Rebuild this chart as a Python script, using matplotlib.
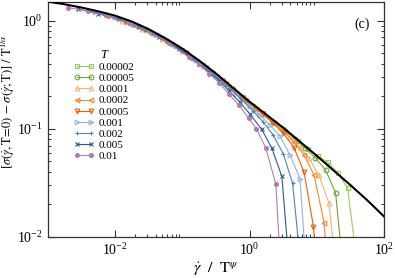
import numpy as np
import matplotlib
matplotlib.use('Agg')
import matplotlib.pyplot as plt
from matplotlib.ticker import FixedLocator, LogLocator, NullFormatter, LogFormatterSciNotation

plt.rcParams['font.family'] = ['Liberation Serif', 'DejaVu Serif']
plt.rcParams['mathtext.fontset'] = 'stix'

# temperatures, in legend order
temps = ['0.00002', '0.00005', '0.0001', '0.0002', '0.0005', '0.001', '0.002', '0.005', '0.01']
colors = ['#92d050', '#6aa832', '#fab470', '#f08a30', '#e0640c', '#8eb4e3', '#4f81bd', '#2f5597', '#b07cb0']
markers = ['s', 'o', '^', '<', 'v', '>', '+', 'x', 'o']
filled = [False, False, False, False, False, False, True, True, True]

# log10(x), log10(y), one pair per temperature
lx_00002 = [-1.6, -1.3, -1.0, -0.7, -0.4, -0.1, 0.2, 0.5, 0.72, 0.87, 1.02, 1.16, 1.31, 1.46, 1.61]
ly_00002 = [-0.065, -0.162, -0.27, -0.408, -0.552, -0.708, -0.856, -1.0, -1.11, -1.185, -1.255, -1.306, -1.407, -1.551, -2.30]

lx_00005 = [-1.75, -1.45, -1.15, -0.85, -0.55, -0.25, 0.05, 0.35, 0.53, 0.68, 0.83, 0.98, 1.13, 1.28, 1.43]
ly_00005 = [-0.033, -0.113, -0.221, -0.344, -0.482, -0.635, -0.789, -0.933, -1.021, -1.099, -1.182, -1.27, -1.38, -1.592, -2.55]

lx_0001 = [-1.9, -1.6, -1.3, -1.0, -0.7, -0.4, -0.1, 0.2, 0.45, 0.6, 0.75, 0.88, 1.03, 1.18, 1.33]
ly_0001 = [0.0, -0.075, -0.172, -0.28, -0.418, -0.562, -0.718, -0.866, -0.986, -1.072, -1.17, -1.268, -1.426, -1.687, -2.53]

lx_0002 = [-2.0, -1.7, -1.4, -1.1, -0.8, -0.5, -0.2, 0.1, 0.36, 0.51, 0.66, 0.81, 0.96, 1.11, 1.26]
ly_0002 = [0.025, -0.05, -0.136, -0.244, -0.372, -0.51, -0.666, -0.818, -0.943, -1.025, -1.123, -1.241, -1.429, -1.87, -3.27]

lx_0005 = [-2.15, -1.85, -1.55, -1.25, -0.95, -0.65, -0.35, -0.05, 0.2, 0.35, 0.5, 0.66, 0.81, 0.95, 1.1]
ly_0005 = [0.048, -0.012, -0.088, -0.19, -0.303, -0.441, -0.588, -0.744, -0.866, -0.948, -1.04, -1.173, -1.40, -1.905, -3.0]

lx_001 = [-2.3, -2.0, -1.7, -1.4, -1.1, -0.8, -0.5, -0.2, 0.0, 0.15, 0.3, 0.45, 0.6, 0.75, 0.9]
ly_001 = [0.075, 0.03, -0.045, -0.131, -0.239, -0.367, -0.51, -0.676, -0.79, -0.872, -0.964, -1.066, -1.242, -1.46, -2.82]

lx_002 = [-2.4, -2.1, -1.8, -1.5, -1.2, -0.9, -0.6, -0.3, -0.15, 0.05, 0.2, 0.35, 0.5, 0.64, 0.79]
ly_002 = [0.09, 0.045, -0.02, -0.095, -0.203, -0.321, -0.464, -0.624, -0.712, -0.834, -0.936, -1.058, -1.23, -1.503, -2.44]

lx_005 = [-2.55, -2.25, -1.95, -1.65, -1.35, -1.05, -0.75, -0.45, -0.3, -0.15, 0.0, 0.18, 0.33, 0.48, 0.63]
ly_005 = [0.106, 0.063, 0.013, -0.063, -0.154, -0.262, -0.405, -0.556, -0.654, -0.752, -0.86, -1.006, -1.178, -1.44, -2.58]

lx_01 = [-2.7, -2.4, -2.1, -1.8, -1.5, -1.2, -0.9, -0.75, -0.6, -0.45, -0.31, -0.16, -0.01, 0.10, 0.24, 0.39, 0.54]
ly_01 = [0.12, 0.085, 0.04, -0.025, -0.10, -0.21, -0.34, -0.405, -0.49, -0.575, -0.68, -0.78, -0.905, -1.0, -1.175, -1.51, -3.14]

# T = 0 master curve (black)
master_lx = [-3, -2.75, -2.5, -2.25, -2, -1.75, -1.5, -1.25, -1, -0.75, -0.5, -0.25, 0,
             0.25, 0.5, 0.75, 1, 1.25, 1.5, 1.75, 2]
master_ly = [0.175, 0.150, 0.120, 0.085, 0.045, -0.01, -0.08, -0.165, -0.26, -0.37, -0.49, -0.62, -0.75,
             -0.87, -0.99, -1.12, -1.25, -1.385, -1.52, -1.66, -1.81]

series_lx = [lx_00002, lx_00005, lx_0001, lx_0002, lx_0005, lx_001, lx_002, lx_005, lx_01]
series_ly = [ly_00002, ly_00005, ly_0001, ly_0002, ly_0005, ly_001, ly_002, ly_005, ly_01]

fig = plt.figure(figsize=(3.95, 2.78), dpi=100)
ax = fig.add_axes([48/395, 1-237/278, 336/395, 235.5/278])

for T, c, m, f, lx, ly in zip(temps, colors, markers, filled, series_lx, series_ly):
    ms = 2.8 if T == '0.01' else 3.4
    ax.plot(10**np.array(lx), 10**np.array(ly), color=c, lw=0.8, marker=m, ms=ms,
            mfc=c if f else 'none', mec=c, mew=0.8, label=T)

ax.plot(10**np.array(master_lx), 10**np.array(master_ly), color='black', lw=1.5, zorder=5)

ax.set_xscale('log')
ax.set_yscale('log')
ax.set_xlim(1e-3, 1e2)
ax.set_ylim(1e-2, 1.5)

ax.xaxis.set_major_locator(FixedLocator([1e-2, 1, 1e2]))
ax.xaxis.set_minor_locator(FixedLocator([k*1e-2 for k in range(2, 10)] + [k*1.0 for k in range(2, 10)]))
ax.xaxis.set_major_formatter(LogFormatterSciNotation())
ax.xaxis.set_minor_formatter(NullFormatter())
ax.yaxis.set_major_locator(LogLocator(base=10))
ax.yaxis.set_minor_locator(LogLocator(base=10, subs=np.arange(2, 10)))
ax.yaxis.set_minor_formatter(NullFormatter())

ax.tick_params(which='both', direction='in', top=True, right=True, colors='#333333', labelcolor='black')
ax.tick_params(which='major', length=5, width=0.8, labelsize=10, pad=4)
ax.tick_params(which='minor', length=2.5, width=0.7)
for s in ax.spines.values():
    s.set_color('#333333')
    s.set_linewidth(0.9)

ax.set_xlabel(r'$\dot{\gamma}\ \ /\ \ \mathrm{T}^{\psi}$', fontsize=11.5, labelpad=1)
ax.set_ylabel(r'$[\sigma(\dot{\gamma},\mathrm{T}\!=\!0)\,-\,\sigma(\dot{\gamma};\mathrm{T})]\ /\ \mathrm{T}^{1/\alpha}$',
              fontsize=9)
ax.yaxis.set_label_coords(-0.092, 0.575)

ax.text(0.935, 0.905, '(c)', transform=ax.transAxes, fontsize=10, ha='center', va='center')

leg = ax.legend(loc='upper left', bbox_to_anchor=(74/395, 1-49/278), bbox_transform=fig.transFigure,
                frameon=False, numpoints=2, fontsize=8, title='T',
                title_fontproperties={'style': 'italic', 'size': 9},
                labelspacing=0.12, handlelength=1.8, handletextpad=0.4, borderpad=0, borderaxespad=0)

fig.savefig('out.png', dpi=100)
